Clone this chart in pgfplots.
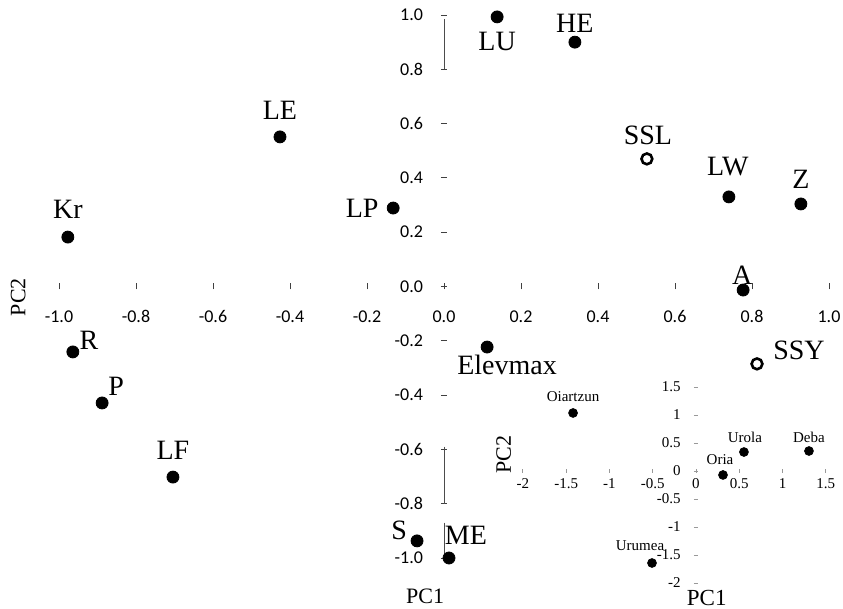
\documentclass[border=0pt]{standalone}
\usepackage{pgfplots}
\pgfplotsset{compat=1.18}
\usepackage{pgfplotstable}
\usepackage{fontspec}
\setmainfont{Liberation Serif}
\newfontfamily\carlito{Carlito}

\pgfplotstableread{
x y lab dx dy
0.138 0.993 LU 0 -12.5
0.340 0.900 HE 0 9.5
-0.426 0.551 LE 0 13.5
0.740 0.330 LW -0.5 15
0.927 0.304 Z 0 12.5
-0.977 0.182 Kr 0 14
-0.132 0.289 LP -15.5 0
0.777 -0.013 A -0.5 7.5
0.112 -0.223 Elevmax 10 -9
-0.964 -0.241 R 8 6
-0.888 -0.429 P 7 8.5
-0.704 -0.702 LF 0 13.5
-0.070 -0.937 S -9 5.5
0.013 -1.000 ME 8.5 11.5
}\mainfilled

\pgfplotstableread{
x y lab dx dy
0.527 0.470 SSL 0.5 12
0.813 -0.285 SSY 21 7
}\mainopen

\pgfplotstableread{
x y lab dx dy
-1.42 1.036 Oiartzun 0 8
0.554 0.339 Urola 0.5 7.5
1.305 0.357 Deba 0 7
0.312 -0.071 Oria -1.5 7.5
-0.508 -1.643 Urumea -6 8.5
}\insetdata

\pgfplotsset{
  labelled/.style={
    only marks,
    point meta=explicit symbolic,
    visualization depends on={\thisrow{dx}\as\ldx},
    visualization depends on={\thisrow{dy}\as\ldy},
    nodes near coords,
    every node near coord/.append style={anchor=center, inner sep=0pt, xshift=\ldx pt, yshift=\ldy pt, text=black},
  },
}

\begin{document}
\begin{tikzpicture}
\useasboundingbox (-222pt,-161.25pt) rectangle (199.5pt,143.25pt);
\begin{axis}[
  at={(0pt,0pt)}, anchor=origin,
  scale only axis, width=385pt, height=271.5pt,
  xmin=-1, xmax=1, ymin=-1, ymax=1,
  clip=false,
  axis lines=middle,
  axis line style={draw=none},
  hide obscured x ticks=false, hide obscured y ticks=false,
  xtick={-1,-0.8,-0.6,-0.4,-0.2,0,0.2,0.4,0.6,0.8,1},
  xticklabels={-1.0,-0.8,-0.6,-0.4,-0.2,0.0,0.2,0.4,0.6,0.8,1.0},
  ytick={-1,-0.8,-0.6,-0.4,-0.2,0,0.2,0.4,0.6,0.8,1},
  yticklabels={-1.0,-0.8,-0.6,-0.4,-0.2,0.0,0.2,0.4,0.6,0.8,1.0},
  major tick length=3pt, tick align=center,
  tick style={black!75, thin},
  xticklabel style={font=\carlito\fontsize{9}{10}\selectfont, anchor=center, yshift=-13.5pt},
  yticklabel style={font=\carlito\fontsize{9}{10}\selectfont, anchor=east, xshift=-5.5pt},
  xlabel={PC1}, ylabel={PC2},
  every axis x label/.style={at={(axis description cs:0.4755,-0.07)}, anchor=center, font=\fontsize{11}{12}\selectfont},
  every axis y label/.style={at={(axis description cs:-0.053,0.4805)}, anchor=center, rotate=90, font=\fontsize{11}{12}\selectfont},
  nodes near coords style={font=\fontsize{14}{16}\selectfont},
]
\draw[black!70, thin] (axis cs:0,0.8) -- (axis cs:0,0.985);
\draw[black!70, thin] (axis cs:0,-0.59) -- (axis cs:0,-0.8);
\draw[black!70, thin] (axis cs:0,-0.87) -- (axis cs:0,-1.0);
\addplot[labelled, mark=*, mark size=3pt, mark options={fill=black, draw=black}] table[x=x, y=y, meta=lab] {\mainfilled};
\addplot[labelled, mark=o, mark size=2.7pt, mark options={draw=black, line width=1.3pt, fill=white}] table[x=x, y=y, meta=lab] {\mainopen};
\end{axis}

\begin{axis}[
  at={(126pt,-92.25pt)}, anchor=origin,
  scale only axis, width=151.5pt, height=98pt,
  xmin=-2, xmax=1.5, ymin=-2, ymax=1.5,
  clip=false,
  axis lines=middle,
  axis line style={draw=none},
  hide obscured x ticks=false, hide obscured y ticks=false,
  xtick={-2,-1.5,-1,-0.5,0,0.5,1,1.5},
  xticklabels={-2,-1.5,-1,-0.5,0,0.5,1,1.5},
  ytick={-2,-1.5,-1,-0.5,0,0.5,1,1.5},
  yticklabels={-2,-1.5,-1,-0.5,0,0.5,1,1.5},
  major tick length=2pt, tick align=center,
  tick style={black!40, thin},
  xticklabel style={font=\fontsize{7.5}{8}\selectfont, anchor=center, yshift=-5.5pt},
  yticklabel style={font=\fontsize{7.5}{8}\selectfont, anchor=east, inner sep=0.5pt, xshift=-6pt},
  xlabel={PC1}, ylabel={PC2},
  every axis x label/.style={at={(axis description cs:0.607,-0.077)}, anchor=center, font=\fontsize{11.5}{12}\selectfont},
  every axis y label/.style={at={(axis description cs:-0.063,0.654)}, anchor=center, rotate=90, font=\fontsize{11}{12}\selectfont},
  nodes near coords style={font=\fontsize{7.5}{8}\selectfont},
]
\addplot[labelled, mark=*, mark size=2.2pt, mark options={fill=black, draw=black}] table[x=x, y=y, meta=lab] {\insetdata};
\end{axis}
\end{tikzpicture}
\end{document}
